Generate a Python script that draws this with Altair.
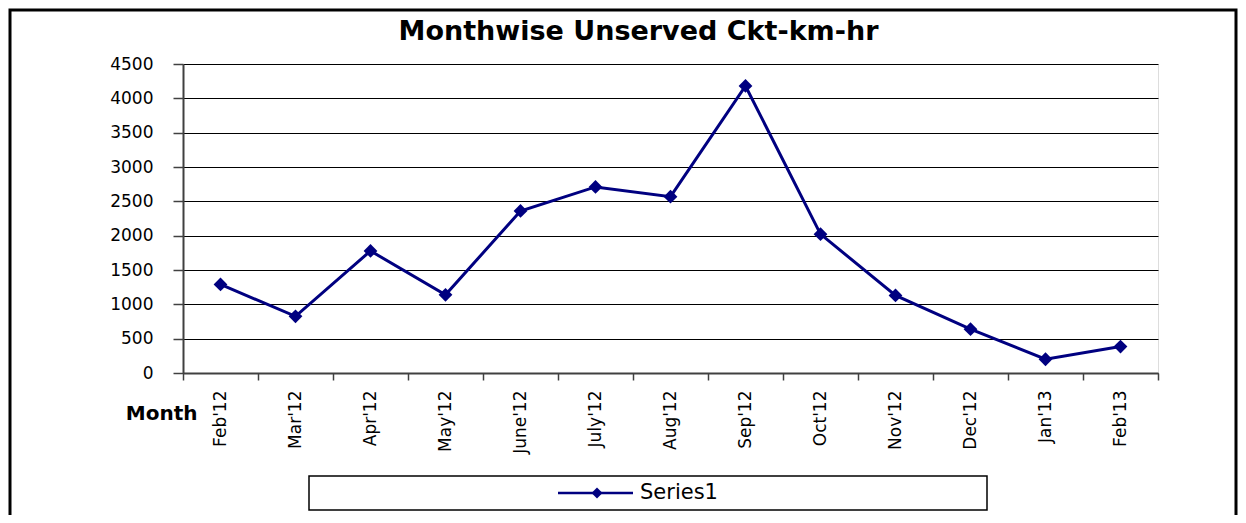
import altair as alt
import pandas as pd

months = ["Feb'12", "Mar'12", "Apr'12", "May'12", "June'12", "July'12", "Aug'12",
          "Sep'12", "Oct'12", "Nov'12", "Dec'12", "Jan'13", "Feb'13"]
values = [1290, 825, 1778, 1138, 2360, 2710, 2568, 4180, 2022, 1130, 638, 200, 385]
y_ticks = [0, 500, 1000, 1500, 2000, 2500, 3000, 3500, 4000, 4500]
series_name = ["Series1"]

df = pd.DataFrame({"Month": months, "Value": values})
leg = pd.DataFrame({"label": series_name})

NAVY = "#000080"
FONT = "DejaVu Sans"
W, H = 975, 309

x = alt.X(
    "Month:N", sort=months,
    scale=alt.Scale(type="band", paddingInner=0, paddingOuter=0),
    axis=alt.Axis(
        title="Month", labelAngle=-90, labelFont=FONT, labelFontSize=17,
        labelColor="black", labelPadding=10, tickBand="extent", tickSize=7,
        tickColor="#404040", tickWidth=1.5, domainColor="#404040", domainWidth=2,
        titleFont=FONT, titleFontWeight="bold", titleFontSize=20, titleColor="black",
        titleAngle=0, titleAlign="right", titleBaseline="middle",
        titleX=14, titleY=40, grid=False,
    ),
)
y = alt.Y(
    "Value:Q",
    scale=alt.Scale(domain=[0, 4500], nice=False),
    axis=alt.Axis(
        title=None, values=y_ticks, format="d", labelFont=FONT, labelFontSize=17,
        labelColor="black", labelPadding=20, tickSize=10, tickColor="#404040",
        tickWidth=1.5, domainColor="#404040", domainWidth=2,
        grid=True, gridColor="black", gridWidth=1,
    ),
)

base = alt.Chart(df).encode(x=x, y=y)
line = base.mark_line(color=NAVY, strokeWidth=3)
pts = base.mark_point(shape="diamond", filled=True, size=190, color=NAVY, opacity=1)

border = alt.Chart(leg).mark_rect(fillOpacity=0, stroke="black", strokeWidth=3).encode(
    x=alt.value(-173), x2=alt.value(1053), y=alt.value(-54), y2=alt.value(470))
box = alt.Chart(leg).mark_rect(fill="white", stroke="black", strokeWidth=1.5).encode(
    x=alt.value(126), x2=alt.value(804), y=alt.value(412), y2=alt.value(446))
legline = alt.Chart(leg).mark_rule(color=NAVY, strokeWidth=2.5).encode(
    x=alt.value(375), x2=alt.value(450), y=alt.value(429))
legpt = alt.Chart(leg).mark_point(shape="diamond", filled=True, size=120, color=NAVY, opacity=1).encode(
    x=alt.value(414), y=alt.value(429))
legtext = alt.Chart(leg).mark_text(align="left", baseline="middle", font=FONT, fontSize=21, color="black").encode(
    x=alt.value(457), y=alt.value(429), text="label:N")

chart = alt.layer(border, line, pts, box, legline, legpt, legtext).properties(
    width=W, height=H,
    title=alt.TitleParams("Monthwise Unserved Ckt-km-hr", font=FONT, fontSize=27,
                          fontWeight="bold", anchor="middle", dx=-32, offset=-58,
                          baseline="alphabetic", color="black"),
    autosize=alt.AutoSizeParams(type="none"),
    padding={"left": 175, "top": 56, "right": 80, "bottom": 142},
).configure_view(stroke="#808080", strokeWidth=2).configure(background="white")

chart.save("out.html", embed_options={"renderer": "svg", "actions": False})
